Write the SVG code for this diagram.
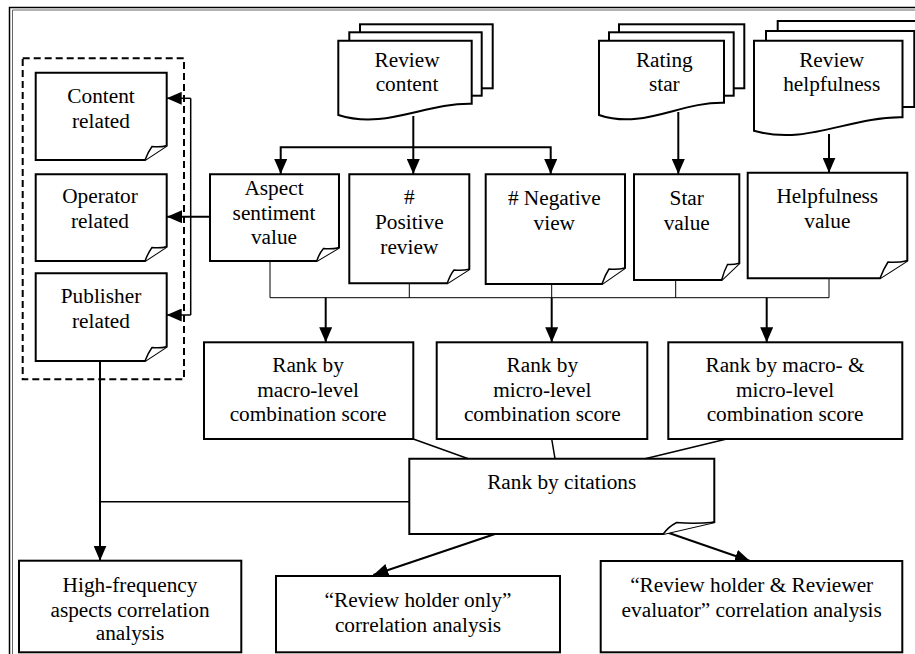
<svg xmlns="http://www.w3.org/2000/svg" width="915" height="654" viewBox="0 0 915 654">
<defs>
<style>
.t{font-family:"Liberation Serif","Times New Roman",serif;font-size:21.3px;text-anchor:middle;fill:#000}
.sh{fill:#fff;stroke:#000;stroke-width:2;stroke-linejoin:miter}
.curl{fill:#fff;stroke:#000;stroke-width:1.5}
.thin{fill:none;stroke:#000;stroke-width:1}
.mid{fill:none;stroke:#000;stroke-width:1.5}
.thick{fill:none;stroke:#000;stroke-width:2}
.arr{marker-end:url(#ah)}
</style>
<marker id="ah" markerUnits="userSpaceOnUse" markerWidth="16" markerHeight="13" refX="15" refY="6.5" orient="auto">
<path d="M0,0 L15,6.5 L0,13 Z" fill="#000"/>
</marker>
</defs>
<rect width="915" height="654" fill="#fff"/>
<g id="frame">
<path d="M9.5 700 V7.5 H1000" fill="none" stroke="#000" stroke-width="1.5"/>
<path d="M12.5 700 V10 H1000" fill="none" stroke="#666" stroke-width="1"/>
</g>
<g id="group-box">
<rect x="22.7" y="58.3" width="161.3" height="321" fill="none" stroke="#000" stroke-width="2" stroke-dasharray="7,4"/>
</g>
<g id="connectors">
<path class="thick arr" d="M413.3 116 V174"/>
<path class="thick arr" d="M413.3 147.3 H280.7 V174"/>
<path class="thick arr" d="M413.3 147.3 H550.7 V174"/>
<path class="thick arr" d="M678.3 112 V174"/>
<path class="thick arr" d="M829 134 V172.7"/>
<path class="thick arr" d="M210 216.7 H167"/>
<path class="mid" d="M190.7 98.3 V315"/>
<path class="mid arr" d="M190.7 98.3 H166.7"/>
<path class="mid arr" d="M190.7 315 H166.7"/>
<path class="thin" d="M270 261 V297.7 M409.3 283.3 V297.7 M551.7 284 V297.7 M675.7 280 V297.7 M829 278.3 V297.7 M270 297.7 H829"/>
<path class="thick arr" d="M325.7 297.7 V342.3"/>
<path class="thick arr" d="M551.7 297.7 V342.3"/>
<path class="thick arr" d="M766.7 297.7 V342.3"/>
<path class="mid" d="M413.3 439 L468.3 458.7 M551.7 439 L555 458.7 M726.7 439 L645 458.7"/>
<path class="thick arr" d="M100 361 V560.7"/>
<path class="mid" d="M409.3 501.7 H100"/>
<path class="thick arr" d="M495 534 L373.3 575"/>
<path class="thick arr" d="M668.3 532.7 L750 561"/>
</g>
<g id="review-content">
<rect class="sh" x="360" y="24.3" width="132.7" height="64"/>
<rect class="sh" x="349.3" y="32.3" width="132.4" height="63.4"/>
<path class="sh" d="M338.3 40.7 H471.7 V103.7 C425 102.7 385 130 338.3 115 Z"/>
<text class="t" x="407" y="67">Review</text>
<text class="t" x="407" y="91">content</text>
</g>
<g id="rating-star">
<rect class="sh" x="619" y="24.3" width="125.3" height="64"/>
<rect class="sh" x="609" y="32.3" width="124.7" height="63.4"/>
<path class="sh" d="M599 40.7 H724 V102.7 C680 101.7 643 130 599 115 Z"/>
<text class="t" x="664.3" y="67">Rating</text>
<text class="t" x="664.3" y="91">star</text>
</g>
<g id="review-helpfulness">
<rect class="sh" x="777.7" y="21" width="160" height="76"/>
<rect class="sh" x="766" y="31" width="148.3" height="76"/>
<path class="sh" d="M754 40.7 H902.5 V117.3 C850 116.3 806 146 754 130.7 Z"/>
<text class="t" x="831.7" y="67">Review</text>
<text class="t" x="831.7" y="91">helpfulness</text>
</g>
<g id="content-related">
<path class="sh" d="M35.7 72.7 H166.7 V145.7 L145 160 H35.7 Z"/>
<path class="curl" d="M145 160 Q148 152 152 146.5 Q160 147.5 166.7 145.7"/>
<text class="t" x="101" y="103">Content</text>
<text class="t" x="101" y="128">related</text>
</g>
<g id="operator-related">
<path class="sh" d="M35.7 174.3 H166.7 V246.7 L145 261 H35.7 Z"/>
<path class="curl" d="M145 261 Q148 253 152 247.5 Q160 248.5 166.7 246.7"/>
<text class="t" x="100" y="203.3">Operator</text>
<text class="t" x="100" y="228.3">related</text>
</g>
<g id="publisher-related">
<path class="sh" d="M35.7 273.3 H166.7 V346.7 L145 361 H35.7 Z"/>
<path class="curl" d="M145 361 Q148 353 152 347.5 Q160 348.5 166.7 346.7"/>
<text class="t" x="101" y="303">Publisher</text>
<text class="t" x="101" y="328">related</text>
</g>
<g id="aspect-sentiment">
<path class="sh" d="M210 174.3 H339 V247.7 L316.7 261 H210 Z"/>
<path class="curl" d="M316.7 261 Q319.5 253 323.5 248.5 Q331 249.5 339 247.7"/>
<text class="t" x="274" y="195">Aspect</text>
<text class="t" x="274" y="220">sentiment</text>
<text class="t" x="274" y="244">value</text>
</g>
<g id="positive-review">
<path class="sh" d="M349.3 174.3 H469.3 V269.3 L447.3 283.3 H349.3 Z"/>
<path class="curl" d="M447.3 283.3 Q450 275 454 270 Q462 271 469.3 269.3"/>
<text class="t" x="409.3" y="203.5">#</text>
<text class="t" x="409.3" y="228.5">Positive</text>
<text class="t" x="409.3" y="253.5">review</text>
</g>
<g id="negative-view">
<path class="sh" d="M485.7 174.3 H625 V268 L602 284 H485.7 Z"/>
<path class="curl" d="M602 284 Q605 275 609 269 Q617 270 625 268"/>
<text class="t" x="554.3" y="205"># Negative</text>
<text class="t" x="554.3" y="230">view</text>
</g>
<g id="star-value">
<path class="sh" d="M634 174.3 H739.3 V263.3 L721.7 280 H634 Z"/>
<path class="curl" d="M721.7 280 Q724 271 727.5 264.5 Q733 265 739.3 263.3"/>
<text class="t" x="686.7" y="205">Star</text>
<text class="t" x="686.7" y="230">value</text>
</g>
<g id="helpfulness-value">
<path class="sh" d="M747.7 172.7 H907.3 V260.7 L880 278.3 H747.7 Z"/>
<path class="curl" d="M880 278.3 Q883.5 269 888 262 Q897 263 907.3 260.7"/>
<text class="t" x="827.3" y="203">Helpfulness</text>
<text class="t" x="827.3" y="228">value</text>
</g>
<g id="rank-macro">
<rect class="sh" x="204" y="342.3" width="209.3" height="96.7"/>
<text class="t" x="308" y="372">Rank by</text>
<text class="t" x="308" y="396.5">macro-level</text>
<text class="t" x="308" y="421">combination score</text>
</g>
<g id="rank-micro">
<rect class="sh" x="436.7" y="342.3" width="210.6" height="96.7"/>
<text class="t" x="542.3" y="372">Rank by</text>
<text class="t" x="542.3" y="396.5">micro-level</text>
<text class="t" x="542.3" y="421">combination score</text>
</g>
<g id="rank-macro-micro">
<rect class="sh" x="668.3" y="342.3" width="234" height="96.7"/>
<text class="t" x="785" y="372">Rank by macro- &amp;</text>
<text class="t" x="785" y="396.5">micro-level</text>
<text class="t" x="785" y="421">combination score</text>
</g>
<g id="rank-citations">
<path class="sh" d="M409.3 458.7 H714.3 V522.3 L663.3 534 H409.3 Z"/>
<path class="curl" d="M663.3 534 Q668 527 676.7 522.5 Q693 524 714.3 522.3"/>
<text class="t" x="561.7" y="488.5">Rank by citations</text>
</g>
<g id="high-frequency">
<rect class="sh" x="19" y="560.7" width="222.3" height="91.6"/>
<text class="t" x="130" y="592">High-frequency</text>
<text class="t" x="130" y="616.5">aspects correlation</text>
<text class="t" x="130" y="640">analysis</text>
</g>
<g id="review-holder-only">
<rect class="sh" x="276" y="576" width="284" height="76.3"/>
<text class="t" x="418" y="607">“Review holder only”</text>
<text class="t" x="418" y="632">correlation analysis</text>
</g>
<g id="review-holder-evaluator">
<rect class="sh" x="600.7" y="561" width="301.6" height="91.3"/>
<text class="t" x="751.7" y="592">“Review holder &amp; Reviewer</text>
<text class="t" x="751.7" y="617">evaluator” correlation analysis</text>
</g>
</svg>
